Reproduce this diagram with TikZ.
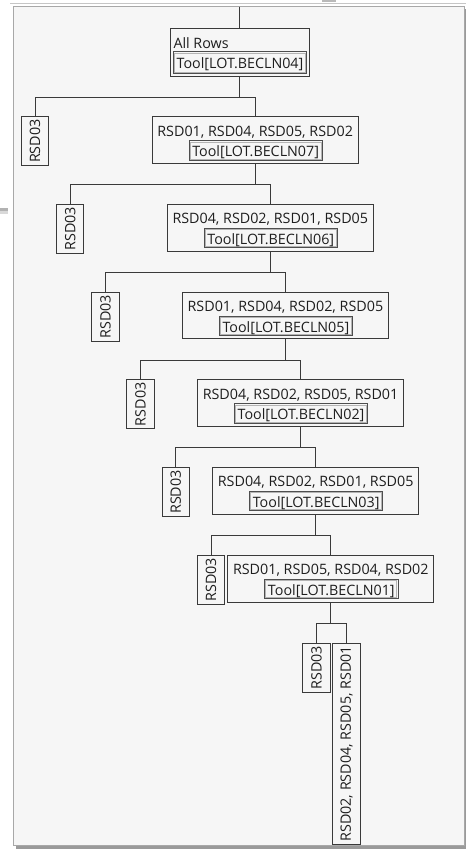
\documentclass[tikz,border=0pt]{standalone}
\usepackage{fontspec}
\setmainfont{Open Sans}
\usetikzlibrary{calc}
\definecolor{linec}{HTML}{3A3A3A}
\definecolor{txtc}{HTML}{1E1E1E}
\definecolor{toolout}{HTML}{4E4E4E}
\definecolor{toolin}{HTML}{B4B4B4}
\definecolor{panelc}{HTML}{F6F6F6}
\definecolor{panelb}{HTML}{A8A8A8}
\definecolor{shadowc}{HTML}{9A9A9A}
\begin{document}
\begin{tikzpicture}[x=1bp,y=-1bp,
  conn/.style={draw=linec, line width=1bp},
  splitbox/.style={draw=linec, line width=1bp, minimum width=206.3bp, minimum height=46.7bp, inner sep=0pt},
  toolbox/.style={draw=toolout, line width=0.9bp, minimum width=133.3bp, minimum height=19.3bp, inner sep=0pt},
  leafbox/.style={draw=linec, line width=1bp, minimum width=27.3bp, minimum height=49bp, inner sep=0pt},
  lab/.style={font=\fontsize{14.3bp}{17bp}\selectfont, text=txtc, inner sep=0pt, anchor=base},
  rotlab/.style={font=\fontsize{14.3bp}{17bp}\selectfont, text=txtc, inner sep=0pt, rotate=90}
]
\useasboundingbox (0,0) rectangle (466,849);
% window background
\fill[white] (0,0) rectangle (466,849);
\fill[shadowc] (16,9) rectangle (466,849);
\fill[panelc] (13,6) rectangle (464.5,845.5);
\draw[panelb, line width=1bp] (13.5,6.5) rectangle (464.5,845.5);
\draw[gray!45, line width=1bp] (10,3.5) -- (466,3.5);
\fill[gray!55] (322,0) rectangle (336,2);
\fill[gray!60] (0,208) rectangle (8,211);
\fill[gray!30] (0,211) rectangle (8,214);

% root node
\node[draw=linec, line width=1bp, minimum width=139.3bp, minimum height=47.7bp, inner sep=0pt] (b0) at (239.65,52.15) {};
\node[lab, anchor=base west] (t0) at (173.3,48.3) {All Rows};
\node[draw=toolout, line width=0.9bp, minimum width=133.4bp, minimum height=21.6bp, inner sep=0pt] (k0) at (240,62.5) {};
\draw[toolin, line width=0.7bp] ([shift={(1.6,1.6)}]k0.north west) rectangle ([shift={(-1.6,-1.6)}]k0.south east);
\node[lab] (u0) at (240,68.3) {Tool[LOT.BECLN04]};
\coordinate (top) at (239.65,6.5);
\draw[conn] (top) -- (b0.north);

% levels
\foreach \k/\lst/\tool in {1/{RSD01, RSD04, RSD05, RSD02}/07,
                           2/{RSD04, RSD02, RSD01, RSD05}/06,
                           3/{RSD01, RSD04, RSD02, RSD05}/05,
                           4/{RSD04, RSD02, RSD05, RSD01}/02,
                           5/{RSD04, RSD02, RSD01, RSD05}/03,
                           6/{RSD01, RSD05, RSD04, RSD02}/01}{
  \pgfmathsetmacro{\xx}{152+15.13*(\k-1)}
  \pgfmathsetmacro{\tp}{116.7+87.72*(\k-1)}
  \pgfmathsetmacro{\rx}{35+35.2*(\k-1)}
  \node[splitbox] (b\k) at (\xx+103.15,\tp+23.35) {};
  \node[lab] (t\k) at (\xx+103.15,\tp+19.3) {\lst};
  \node[toolbox] (k\k) at (\xx+103.65,\tp+33.65) {};
  \draw[toolin, line width=0.7bp] ([shift={(1.6,1.6)}]k\k.north west) rectangle ([shift={(-1.6,-1.6)}]k\k.south east);
  \node[lab] (u\k) at (\xx+103.65,\tp+40) {Tool[LOT.BECLN\tool]};
  \node[leafbox] (r\k) at (\rx,\tp+24.5) {};
  \node[rotlab] (q\k) at (r\k.center) {RSD03};
}

% final leaves
\node[leafbox] (r7) at (316.4,667.8) {};
\node[rotlab] (q7) at (r7.center) {RSD03};
\node[leafbox, minimum width=27.6bp, minimum height=201bp] (r8) at (346.5,743.8) {};
\node[rotlab] (q8) at (r8.center) {RSD02, RSD04, RSD05, RSD01};

% split connectors
\foreach \p/\c in {0/1,1/2,2/3,3/4,4/5,5/6}{
  \coordinate (j\p) at ($(b\p.south)+(0,20.7)$);
  \draw[conn] (b\p.south) -- (j\p);
  \draw[conn] (r\c.north) |- (j\p) -| (b\c.north);
}
\coordinate (j6) at ($(b6.south)+(0,20.7)$);
\draw[conn] (b6.south) -- (j6);
\draw[conn] (r7.north) |- (j6) -| (r8.north);
\end{tikzpicture}
\end{document}
